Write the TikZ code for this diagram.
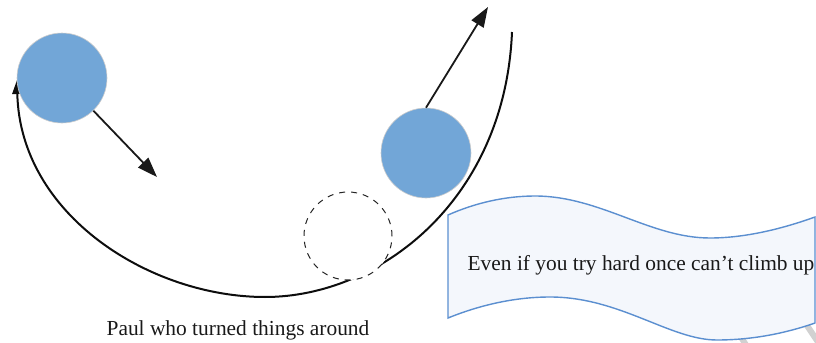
\documentclass[tikz,border=0pt]{standalone}
\usepackage{fontspec}
\setmainfont{Liberation Serif}
\usepackage{xcolor}
\usepackage{tikz}
\usetikzlibrary{positioning, arrows.meta, calc}
\definecolor{ballblue}{RGB}{114,166,215}
\definecolor{bannerblue}{RGB}{91,143,208}
\definecolor{bannerfill}{RGB}{244,247,252}

\begin{document}
\begin{tikzpicture}[
        x=0.5pt, y=-0.5pt,
        >=Triangle,
        arrow_style/.style={-{Triangle[length=10pt,width=7pt]}, line width=0.9pt, draw=black!90},
        track_style/.style={line width=1pt, draw=black!95},
        ball_style/.style={circle, minimum size=45pt, inner sep=0pt, fill=ballblue, draw=black!20, line width=0.3pt},
        ghost_style/.style={circle, minimum size=44pt, inner sep=0pt, fill=white, draw=black!85, dashed, line width=0.5pt},
        banner_style/.style={fill=bannerfill, draw=bannerblue, line width=0.7pt},
        label_style/.style={font=\fontsize{10.7}{12.8}\selectfont, text=black!90}
    ]
    \useasboundingbox (0,0) rectangle (816,343);

    % =========================================================================
    % 1. TRACK (the big bowl)
    % =========================================================================
    \coordinate (trackL) at (17,80);
    \coordinate (trackB) at (265,297);
    \coordinate (trackR) at (512,32);
    \draw[track_style, {Triangle[length=7pt,width=5pt]}-] (trackL)
        .. controls (20,215) and (150,297) .. (trackB)
        .. controls (380,297) and (505,200) .. (trackR);

    % shadow stripes behind the banner
    \draw[black!18, line width=3pt] (806,324) -- (818,342);
    \draw[black!18, line width=3pt] (741,337) -- (746,345);

    % =========================================================================
    % 2. BALLS
    % =========================================================================
    \node[ball_style] (ballL) at (62,78) {};
    \node[ball_style] (ballR) at (426,153) {};
    \node[ghost_style] (ghost) at (348,236) {};

    % =========================================================================
    % 3. MOTION ARROWS
    % =========================================================================
    \coordinate (tipL) at (157,177);
    \coordinate (tipR) at (488,7);
    \draw[arrow_style] (ballL) -- (tipL);
    \draw[arrow_style] (ballR.north) -- (tipR);

    % =========================================================================
    % 4. BANNER AND LABELS
    % =========================================================================
    \draw[banner_style] (448,215)
        .. controls (475,203) and (505,196) .. (535,196)
        .. controls (600,196) and (650,238) .. (710,238)
        .. controls (750,238) and (790,226) .. (815,217)
        -- (815,323)
        .. controls (795,330) and (760,340) .. (717,340)
        .. controls (670,340) and (620,297) .. (550,297)
        .. controls (515,297) and (480,305) .. (448,318) -- cycle;
    \node[label_style] (bannertext) at (641,265) {Even if you try hard once can’t climb up};
    \node[label_style] (caption) at (238,330) {Paul who turned things around};

\end{tikzpicture}
\end{document}
